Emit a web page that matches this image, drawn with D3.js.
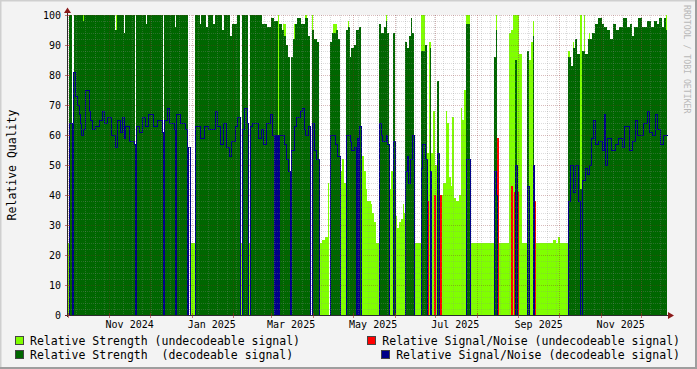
<!DOCTYPE html>
<html>
<head>
<meta charset="utf-8">
<script src="https://cdn.jsdelivr.net/npm/d3@7"></script>
<style>
    body { margin: 0; background: #f3f3f3; }
    svg { display: block; font-family: "DejaVu Sans Mono", monospace; }
    text { white-space: pre; }
</style>
</head>
<body>
<svg id="svg" width="697" height="369"></svg>
<script>
// consolidated readings: one step is ~17.8 hours (one pixel of the graph)
var t0 = Date.UTC(2024, 8, 30, 10),
    stepMs = 17.84 * 3600 * 1000,
    nSteps = 600;

// [step, value] pairs, value holds until the next step, null = no reading
var strengthUndec = [
    [0, 24], [2, null], [16, 100], [17, null], [49, 100], [50, null],
    [124, 24], [128, null], [173, 24], [175, null], [181, 24], [183, null],
    [211, 100], [212, null], [216, 97], [219, null], [227, 97], [228, null],
    [238, 100], [240, null], [245, 100], [246, null],
    [252, 24], [255, 25], [258, 26], [261, 44], [262, null],
    [266, 97], [270, null], [273, 48], [275, 52], [277, 44], [279, null],
    [281, 98], [282, null],
    [294, 57], [295, 53], [297, 48], [299, 42], [300, 38], [304, 37], [305, 34],
    [307, 31], [309, 24], [312, null], [319, 100], [320, null],
    [322, 42], [324, 48], [326, null],
    [328, 33], [330, 29], [332, 31], [334, 32], [336, 37], [337, 34], [338, null],
    [347, 24], [354, 100], [358, null],
    [360, 54], [362, 91], [364, 54], [366, 68], [368, 50], [370, 60], [372, 44],
    [373, 40], [376, 44], [379, 68], [380, 64], [382, 46], [384, 43], [385, 66],
    [387, 39], [389, 38], [392, 40], [394, 69], [395, 65], [397, 75], [399, 100], [403, 24],
    [429, 100], [430, 24], [442, 94], [444, 95], [446, 100], [452, 87], [455, 24],
    [460, null], [462, 85], [464, 91], [466, 98], [467, 24],
    [486, 25], [489, 24], [491, 26], [493, 24],
    [501, 88], [503, null], [506, 91], [507, null], [513, 100], [515, null],
    [517, 100], [518, null], [522, 94], [523, null], [599, 100]
];

var strengthDec = [
    [0, null], [2, 100], [5, null], [7, 100], [16, 98], [17, 100],
    [48, 95], [50, 100], [57, 94], [58, 100], [68, null], [69, 100],
    [79, 97], [80, 100], [96, null], [97, 100], [108, 96], [109, 100],
    [121, null], [128, 100], [133, 97], [134, 100], [139, 96], [141, 100],
    [146, 97], [148, 100], [155, 95], [157, 100], [163, 93], [165, 97], [170, 100],
    [173, null], [175, 100], [181, null], [183, 100],
    [195, 97], [200, 96], [204, 99], [207, 98], [211, 60], [212, 97],
    [215, 95], [217, 93], [219, 90], [221, 86], [223, null],
    [224, 86], [226, 92], [228, 97], [230, 99], [234, 97], [238, 99], [241, 93],
    [243, null], [245, 95], [247, 92], [250, 91], [252, null],
    [263, 91], [265, 94], [269, 95], [271, 92], [273, null],
    [279, 95], [281, 96], [283, 86], [284, 89], [287, 90], [289, 95], [292, 96], [294, null],
    [312, 97], [314, 94], [317, 96], [319, 98], [320, 94], [322, null],
    [326, 94], [328, null],
    [338, 91], [340, 89], [342, 93], [344, 99], [345, 94], [347, null],
    [354, 88], [358, 90], [360, null], [363, 89], [364, null], [370, 78], [372, null],
    [399, 97], [403, null], [427, 86], [429, 95], [430, null],
    [448, 85], [450, null], [460, 88], [462, null], [466, 93], [467, null],
    [501, 86], [504, 83], [506, 89], [508, 92], [510, 87], [513, 42], [515, 88],
    [518, 87], [521, 92], [525, 94], [528, 97], [531, 99], [535, 97], [537, 96],
    [540, 95], [543, 92], [546, 97], [549, 95], [552, 96], [556, 99], [560, 96],
    [563, 97], [565, 93], [567, 96], [571, 99], [575, 96], [580, 98], [584, 96],
    [587, 98], [590, 97], [592, 99], [595, 96], [597, 99], [599, 95]
];

var snrUndec = [
    [0, 0], [360, 38], [361, 0], [367, 40], [368, 0], [373, 40], [374, 0],
    [430, 59], [431, 0], [444, 43], [445, 0], [447, 41], [448, 0], [450, 41], [451, 0],
    [467, 38], [468, 0]
];

var snrDec = [
    [0, 0], [2, 64], [5, 0], [6, 81], [8, 73], [10, 70], [12, 67], [13, 64], [14, 60],
    [16, 62], [18, 75], [22, 68], [23, 65], [25, 62], [28, 63], [32, 65], [35, 68],
    [37, 64], [40, 66], [44, 60], [48, 56], [50, 65], [53, 61], [55, 66], [57, 59],
    [58, 63], [62, 58], [67, 57], [68, 0], [69, 63], [72, 61], [75, 66], [78, 63],
    [81, 67], [86, 63], [90, 65], [95, 61], [96, 0], [97, 65], [100, 69], [102, 64],
    [107, 62], [108, 0], [109, 67], [113, 64], [118, 62], [120, 0], [121, 56], [123, 0],
    [128, 63], [133, 59], [137, 63], [141, 62], [148, 68], [150, 63], [153, 57],
    [156, 64], [159, 56], [162, 53], [164, 58], [168, 63], [170, 66], [173, 0],
    [175, 62], [177, 69], [180, 64], [181, 0], [183, 63], [185, 64], [191, 59],
    [194, 62], [196, 57], [199, 64], [203, 67], [205, 60],
    [207, 0], [208, 60], [209, 0], [210, 60], [211, 0], [212, 60],
    [217, 57], [219, 52], [221, 48], [223, 0], [224, 55], [227, 63], [229, 66],
    [233, 68], [235, 69], [237, 62], [238, 60], [241, 63], [243, 0], [245, 64],
    [247, 55], [249, 52], [252, 0], [263, 60], [268, 57], [270, 53], [273, 0],
    [279, 60], [283, 58], [284, 55], [287, 56], [289, 0], [290, 59], [291, 0],
    [292, 63], [294, 0], [312, 64], [314, 60], [315, 58], [319, 60], [320, 57],
    [322, 0], [326, 58], [328, 0], [338, 48], [340, 53], [341, 44], [343, 52],
    [345, 60], [347, 0], [354, 49], [355, 57], [358, 52], [360, 0], [363, 48],
    [364, 0], [370, 54], [372, 0], [399, 52], [403, 0], [427, 48], [429, 40],
    [430, 0], [448, 50], [450, 0], [460, 43], [462, 0], [466, 50], [467, 0],
    [501, 38], [503, 50], [506, 41], [508, 50], [511, 38], [513, 0], [515, 45],
    [518, 49], [520, 47], [522, 50], [524, 59], [526, 65], [528, 57], [531, 58],
    [535, 55], [537, 67], [538, 50], [540, 59], [544, 55], [548, 57], [551, 59],
    [555, 56], [557, 63], [562, 55], [565, 58], [568, 65], [570, 60], [576, 64],
    [580, 68], [582, 61], [585, 60], [588, 67], [590, 62], [593, 57], [596, 60]
];

var yTicks = [0, 10, 20, 30, 40, 50, 60, 70, 80, 90, 100];
var xLabelMonths = ['2024-11', '2025-01', '2025-03', '2025-05', '2025-07', '2025-09', '2025-11'];

var legendLeft = ['Relative Strength (undecodeable signal)', 'Relative Strength  (decodeable signal)'];
var legendRight = ['Relative Signal/Noise (undecodeable signal)', 'Relative Signal/Noise (decodeable signal)'];

var colors = {
    strengthUndec: '#80ff00',
    strengthDec: '#006600',
    snrUndec: '#ff0000',
    snrDec: '#000088'
};

var plot = { left: 67, right: 667, top: 15, bottom: 315 };

var $svg = d3.select('#svg');

function stepTime(i) {
    return new Date(t0 + i * stepMs);
}

var x = d3.scaleUtc()
    .domain([stepTime(0), stepTime(nSteps)])
    .range([plot.left, plot.right]);

var y = d3.scaleLinear()
    .domain([0, 100])
    .range([plot.bottom, plot.top]);

// frame like rrdtool: light shade top/left, dark shade bottom/right
$svg.append('rect').attr('width', 697).attr('height', 369).attr('fill', '#f3f3f3');
$svg.append('path').attr('d', 'M0,368V0H697').attr('fill', 'none').attr('stroke', '#cfcfcf').attr('stroke-width', 3);
$svg.append('path').attr('d', 'M0,368H696V0').attr('fill', 'none').attr('stroke', '#9e9e9e').attr('stroke-width', 2);

$svg.append('rect')
    .attr('x', plot.left).attr('y', plot.top)
    .attr('width', plot.right - plot.left).attr('height', plot.bottom - plot.top)
    .attr('fill', '#fff');

function toSteps(series) {
    return series.map(function (d, k) {
        var next = k + 1 < series.length ? series[k + 1][0] : nSteps;
        return { a: stepTime(d[0]), b: stepTime(next), v: d[1] };
    }).filter(function (s) { return s.v != null; });
}

function drawArea(series, color) {
    $svg.append('g')
        .selectAll('rect')
        .data(toSteps(series))
        .join('rect')
        .attr('x', function (s) { return Math.round(x(s.a)); })
        .attr('width', function (s) { return Math.round(x(s.b)) - Math.round(x(s.a)); })
        .attr('y', function (s) { return y(s.v); })
        .attr('height', function (s) { return plot.bottom - y(s.v); })
        .attr('fill', color)
        .attr('shape-rendering', 'crispEdges');
}

function drawLine(series, color) {
    var pts = series.concat([[nSteps, series[series.length - 1][1]]]);
    var line = d3.line()
        .x(function (d) { return Math.round(x(stepTime(d[0]))) + 0.5; })
        .y(function (d) { return Math.round(y(d[1])) + 0.5; })
        .curve(d3.curveStepAfter);
    $svg.append('path')
        .attr('d', line(pts))
        .attr('fill', 'none')
        .attr('stroke', color)
        .attr('stroke-width', 1.2)
        .attr('shape-rendering', 'crispEdges');
}

drawArea(strengthUndec, colors.strengthUndec);
drawLine(snrUndec, colors.snrUndec);
drawArea(strengthDec, colors.strengthDec);
drawLine(snrDec, colors.snrDec);

// grid on top of the graph, semi transparent
var $grid = $svg.append('g').attr('stroke-dasharray', '1,1').attr('shape-rendering', 'crispEdges');
var minorCol = 'rgba(140,140,140,0.3)',
    majorCol = 'rgba(130,30,30,0.3)';

d3.range(2, 100, 2).filter(function (v) { return v % 10; }).forEach(function (v) {
    var yy = Math.round(y(v)) + 0.5;
    $grid.append('line').attr('x1', plot.left).attr('x2', plot.right)
        .attr('y1', yy).attr('y2', yy).attr('stroke', minorCol);
});
d3.utcMonday.range(stepTime(0), stepTime(nSteps)).forEach(function (d) {
    var xx = Math.round(x(d)) + 0.5;
    $grid.append('line').attr('x1', xx).attr('x2', xx)
        .attr('y1', plot.top).attr('y2', plot.bottom).attr('stroke', minorCol);
});
yTicks.slice(1).forEach(function (v) {
    var yy = Math.round(y(v)) + 0.5;
    $grid.append('line').attr('x1', plot.left).attr('x2', plot.right)
        .attr('y1', yy).attr('y2', yy).attr('stroke', majorCol);
});
var months = d3.utcMonth.range(stepTime(0), stepTime(nSteps));
months.forEach(function (d) {
    var xx = Math.round(x(d)) + 0.5;
    $grid.append('line').attr('x1', xx).attr('x2', xx)
        .attr('y1', plot.top).attr('y2', plot.bottom).attr('stroke', majorCol);
});

// axes
var axisCol = '#2c2c2c',
    arrowCol = '#8b1a1a';
$svg.append('line')
    .attr('x1', plot.left + 0.5).attr('x2', plot.left + 0.5)
    .attr('y1', plot.bottom + 2).attr('y2', plot.top - 3)
    .attr('stroke', axisCol);
$svg.append('line')
    .attr('x1', plot.left - 2).attr('x2', plot.right + 2)
    .attr('y1', plot.bottom + 0.5).attr('y2', plot.bottom + 0.5)
    .attr('stroke', axisCol);
$svg.append('path')
    .attr('d', 'M64,13L67.5,7.5L71,13Z')
    .attr('fill', arrowCol);
$svg.append('path')
    .attr('d', 'M668,312L674,315.5L668,319Z')
    .attr('fill', arrowCol);

yTicks.forEach(function (v) {
    var yy = Math.round(y(v)) + 0.5;
    $svg.append('line').attr('x1', plot.left - 2).attr('x2', plot.left + 3)
        .attr('y1', yy).attr('y2', yy).attr('stroke', 'rgba(160,40,40,0.6)');
});
months.forEach(function (d) {
    var xx = Math.round(x(d)) + 0.5;
    $svg.append('line').attr('x1', xx).attr('x2', xx)
        .attr('y1', plot.bottom - 2).attr('y2', plot.bottom + 3)
        .attr('stroke', 'rgba(160,40,40,0.6)');
});

// y labels
$svg.append('g')
    .selectAll('text')
    .data(yTicks)
    .join('text')
    .attr('x', 61)
    .attr('y', function (v) { return y(v); })
    .attr('dy', '0.36em')
    .attr('text-anchor', 'end')
    .attr('font-size', '10px')
    .attr('fill', '#000')
    .text(function (v) { return v; });

// x labels, centered half a month after the month start
var fmt = d3.utcFormat('%b %Y'),
    parseMonth = d3.utcParse('%Y-%m');
$svg.append('g')
    .selectAll('text')
    .data(xLabelMonths)
    .join('text')
    .attr('x', function (m) { return x(d3.utcDay.offset(parseMonth(m), 15)); })
    .attr('y', 328)
    .attr('text-anchor', 'middle')
    .attr('font-size', '10px')
    .attr('fill', '#000')
    .text(function (m) { return fmt(parseMonth(m)); });

// vertical title
$svg.append('text')
    .attr('transform', 'translate(15.5,165) rotate(-90)')
    .attr('text-anchor', 'middle')
    .attr('font-size', '11.5px')
    .attr('fill', '#000')
    .text('Relative Quality');

// watermark
$svg.append('text')
    .attr('transform', 'translate(684,5) rotate(90)')
    .attr('font-size', '8.2px')
    .attr('fill', '#b8b8b8')
    .text('RRDTOOL / TOBI OETIKER');

// legend
var rows = [344.5, 358.5];
function legendEntry(label, color, row, right) {
    var $t = $svg.append('text')
        .attr('y', rows[row])
        .attr('font-size', '11.5px')
        .attr('fill', '#000')
        .text(label);
    var start = 30;
    if (right) {
        $t.attr('x', 680).attr('text-anchor', 'end');
        start = 680 - $t.node().getComputedTextLength();
    } else {
        $t.attr('x', start);
    }
    $svg.append('rect')
        .attr('x', Math.round(start - 15) + 0.5)
        .attr('y', rows[row] - 8.5)
        .attr('width', 8).attr('height', 8)
        .attr('fill', color)
        .attr('stroke', '#444')
        .attr('shape-rendering', 'crispEdges');
}
legendEntry(legendLeft[0], colors.strengthUndec, 0, false);
legendEntry(legendLeft[1], colors.strengthDec, 1, false);
legendEntry(legendRight[0], colors.snrUndec, 0, true);
legendEntry(legendRight[1], colors.snrDec, 1, true);
</script>
</body>
</html>
